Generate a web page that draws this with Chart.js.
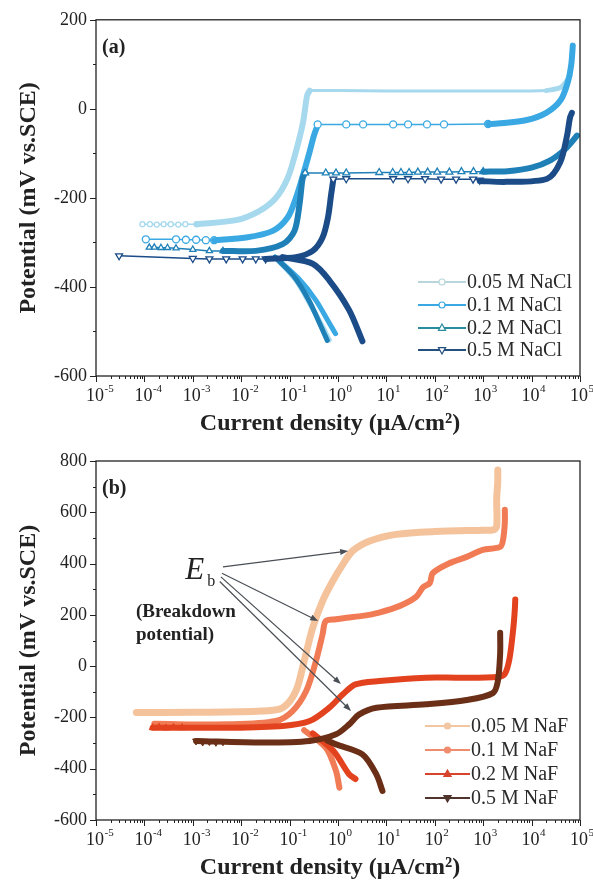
<!DOCTYPE html>
<html><head><meta charset="utf-8">
<script src="https://cdn.jsdelivr.net/npm/chart.js@4.4.1/dist/chart.umd.min.js"></script>
<style>
html,body{margin:0;padding:0;background:#fff;width:593px;height:890px;overflow:hidden}
.w{position:absolute;left:0;width:593px}
canvas{display:block}
</style></head><body>
<div class="w" style="top:0;height:440px"><canvas id="ca" width="593" height="440" style="width:593px;height:440px"></canvas></div>
<div class="w" style="top:440px;height:450px"><canvas id="cb" width="593" height="450" style="width:593px;height:450px"></canvas></div>
<script>
// ---------- Panel (a): NaCl ----------
const legendA = ['0.05 M NaCl', '0.1 M NaCl', '0.2 M NaCl', '0.5 M NaCl'];
// 0.05 M NaCl
const a005LeftX = [9.1e-5, 1.3e-4, 1.8e-4, 2.5e-4, 3.5e-4, 5e-4, 7e-4, 1.2e-3];
const a005LeftY = [-259, -259, -260, -259, -259, -260, -259, -259];
const a005RiseX = [1.2e-3, 7.8e-3, 0.023, 0.052, 0.091, 0.135, 0.19, 0.23, 0.26];
const a005RiseY = [-259, -250, -230, -200, -156, -96, -30, 30, 41];
const a005PlatX = [0.26, 1, 10, 100, 1000, 1e4, 2e4];
const a005PlatY = [41, 41, 40, 40, 40, 40, 41];
const a005TailX = [2e4, 4e4, 6.3e4];
const a005TailY = [41, 48, 75];
const a005CathX = [0.05, 0.135, 0.26, 0.48, 0.66];
const a005CathY = [-333, -385, -437, -489, -519];
// 0.1 M NaCl
const a01LeftX = [1.07e-4, 4.5e-4, 7.2e-4, 1.17e-3, 1.86e-3, 2.75e-3];
const a01LeftY = [-293, -293, -294, -294, -295, -295];
const a01RiseX = [2.75e-3, 0.0126, 0.045, 0.091, 0.135, 0.19, 0.26, 0.32, 0.38];
const a01RiseY = [-295, -289, -274, -244, -200, -148, -96, -59, -37];
const a01PlatX = [0.38, 1.48, 3.3, 13.8, 28, 69, 155, 1260];
const a01PlatY = [-35, -35, -35, -35, -35, -35, -35, -34];
const a01TailX = [1260, 2000, 8000, 2e4, 4e4, 5.6e4, 6.6e4, 7.1e4];
const a01TailY = [-34, -33, -25, -9, 20, 60, 100, 142];
const a01CathX = [0.05, 0.15, 0.35, 0.65, 0.89];
const a01CathY = [-333, -380, -430, -480, -505];
// 0.2 M NaCl
const a02LeftX = [1.26e-4, 1.6e-4, 2.2e-4, 3e-4, 4.5e-4, 1e-3, 2.2e-3, 4.2e-3];
const a02LeftY = [-311, -311, -312, -312, -313, -316, -319, -319];
const a02RiseX = [4.2e-3, 0.02, 0.072, 0.126, 0.16, 0.186, 0.21];
const a02RiseY = [-319, -319, -304, -274, -215, -156, -144];
const a02PlatX = [0.21, 0.56, 0.91, 1.48, 7.1, 13.5, 20, 29.5, 44.7, 71, 112, 200, 355, 630, 1000];
const a02PlatY = [-144, -144, -144, -144, -143, -143, -143, -143, -142, -142, -142, -142, -141, -141, -141];
const a02TailX = [1000, 3200, 1e4, 2.5e4, 5e4, 8.7e4];
const a02TailY = [-141, -140, -132, -115, -90, -60];
const a02CathX = [0.05, 0.12, 0.25, 0.45, 0.6];
const a02CathY = [-333, -375, -430, -490, -520];
// 0.5 M NaCl
const a05LeftX = [3e-5, 1e-3, 2.2e-3, 4.9e-3, 0.0107, 0.02, 0.032];
const a05LeftY = [-330, -336, -337, -337, -337, -337, -337];
const a05RiseX = [0.032, 0.135, 0.3, 0.48, 0.62, 0.72, 0.8];
const a05RiseY = [-337, -333, -319, -289, -244, -193, -159];
const a05PlatX = [0.8, 1.48, 13.8, 28, 63, 135, 275, 617, 850];
const a05PlatY = [-158, -157, -157, -157, -157, -158, -158, -158, -160];
const a05TailX = [850, 3000, 2.1e4, 3.9e4, 5.4e4, 6.2e4, 6.8e4];
const a05TailY = [-162, -164, -157, -120, -60, -20, -9];
const a05CathX = [0.072, 0.3, 0.66, 1.7, 3.2];
const a05CathY = [-333, -348, -385, -452, -522];

// ---------- Panel (b): NaF ----------
const legendB = ['0.05 M NaF', '0.1 M NaF', '0.2 M NaF', '0.5 M NaF'];
const b005X = [6.8e-5, 1e-3, 0.027, 0.072, 0.135, 0.2, 0.3, 0.48, 0.78, 1.26, 2, 4.5, 15.8, 100, 1000, 1600, 1900, 1900, 2000, 2000];
const b005Y = [-181, -180, -175, -162, -97, 20, 150, 254, 332, 397, 449, 488, 514, 525, 530, 531, 545, 650, 720, 765];
const b01X = [1.6e-4, 5.6e-3, 0.052, 0.115, 0.22, 0.35, 0.48, 0.56, 0.91, 1.5, 3.2, 7.1, 19, 41, 58, 79, 91, 204, 457, 977, 2240, 2570, 2800, 2800];
const b01Y = [-225, -227, -214, -175, -97, 20, 124, 176, 183, 189, 196, 209, 235, 270, 309, 324, 363, 402, 426, 453, 465, 492, 560, 610];
const b01CathX = [0.2, 0.56, 0.91, 1.07];
const b01CathY = [-250, -318, -409, -474];
const b02X = [1.48e-4, 5.6e-3, 0.072, 0.26, 0.66, 1.26, 2.3, 7.1, 66, 316, 2000, 2800, 3500, 4200, 4500, 4600];
const b02Y = [-240, -240, -233, -214, -162, -110, -71, -58, -45, -45, -42, -30, 30, 150, 220, 260];
const b02CathX = [0.3, 0.8, 1.7, 2.3];
const b02CathY = [-262, -330, -422, -440];
const b02MarkX = [1.48e-4, 2e-4, 2.8e-4, 4e-4, 6e-4];
const b02MarkY = [-240, -238, -241, -239, -240];
const b05X = [1.17e-3, 0.0275, 0.26, 0.91, 1.7, 2.75, 6.2, 66, 457, 1580, 2000, 2240, 2240];
const b05Y = [-292, -298, -292, -266, -227, -188, -162, -149, -132, -105, -60, 50, 130];
const b05CathX = [0.6, 0.91, 3.2, 6.2, 8.3];
const b05CathY = [-290, -305, -344, -422, -487];
const b05MarkX = [1.17e-3, 1.6e-3, 2.2e-3, 3e-3, 4.2e-3];
const b05MarkY = [-292, -296, -294, -297, -295];

// annotation (data coordinates) for E_b arrows
const ebTailX = [4.2e-3, 4.0e-3, 3.8e-3, 3.6e-3];
const ebTailY = [387, 362, 348, 330];
const ebHeadX = [1.62, 0.39, 1.15, 1.86];
const ebHeadY = [449, 176, -70, -175];

const xTickExp = [-5, -4, -3, -2, -1, 0, 1, 2, 3, 4, 5];

// ---------- styles ----------
const colA = ['#a6d9ee', '#3aa9e3', '#1f80b8', '#1b4c88'];
const legColA = ['#b9d6dc', '#3aa9e3', '#2a8d9e', '#23507e'];
const colB = ['#f5c39b', '#f07b55', '#e3421f', '#6a2f16'];
const legColB = ['#f3c6a2', '#f08c6e', '#d8432c', '#4e342c'];
const SERIF = '"Liberation Serif", "Times New Roman", serif';

function pts(xs, ys) { return xs.map((x, i) => ({ x: x, y: ys[i] })); }
function line(xs, ys, color, width, extra) {
  return Object.assign({
    data: pts(xs, ys), borderColor: color, backgroundColor: color, borderWidth: width,
    showLine: true, pointRadius: 0, pointHoverRadius: 0, fill: false, tension: width >= 4 ? 0.3 : 0,
    borderJoinStyle: 'round', borderCapStyle: 'round'
  }, extra || {});
}
function marks(color, style, rot, r) {
  return { pointRadius: r || 3.5, pointStyle: style, rotation: rot || 0,
    pointBackgroundColor: '#fff', pointBorderColor: color, pointBorderWidth: 1.3 };
}

function decor(cfg) {
  return {
    id: 'decor',
    afterDraw(chart) {
      const ctx = chart.ctx, a = chart.chartArea, x = chart.scales.x, y = chart.scales.y;
      ctx.save();
      ctx.strokeStyle = '#222'; ctx.lineWidth = 1.3;
      ctx.strokeRect(a.left, a.top, a.right - a.left, a.bottom - a.top);
      ctx.lineWidth = 1;
      for (let v = cfg.yMin; v <= cfg.yMax + 0.1; v += cfg.yMinor) {
        const py = Math.round(y.getPixelForValue(v)) + 0.5;
        const major = Math.abs((v - cfg.yMin) % cfg.yMajor) < 0.01;
        ctx.beginPath(); ctx.moveTo(a.left, py); ctx.lineTo(a.left - (major ? 6 : 3), py); ctx.stroke();
      }
      for (let e = -5; e <= 5; e++) {
        for (let m = 1; m <= 9; m++) {
          const v = m * Math.pow(10, e);
          if (v > 1.0001e5) break;
          const px = Math.round(x.getPixelForValue(v)) + 0.5;
          ctx.beginPath(); ctx.moveTo(px, a.bottom); ctx.lineTo(px, a.bottom + (m === 1 ? 6 : 3)); ctx.stroke();
        }
      }
      // x tick labels 10^n
      ctx.fillStyle = '#222'; ctx.textBaseline = 'alphabetic';
      xTickExp.forEach(e => {
        const px = x.getPixelForValue(Math.pow(10, e));
        ctx.font = '18px ' + SERIF;
        const w1 = ctx.measureText('10').width;
        const es = String(e);
        const sx = px - w1 / 2 - 1;
        ctx.textAlign = 'left';
        ctx.fillText('10', sx, a.bottom + 25);
        ctx.font = '11px ' + SERIF;
        ctx.fillText(es, sx + w1 + 0.5, a.bottom + 16);
      });
      // axis titles
      ctx.font = 'bold 24px ' + SERIF; ctx.textAlign = 'center'; ctx.textBaseline = 'middle';
      ctx.fillText('Current density (\u03bcA/cm\u00b2)', 330, a.bottom + 48);
      ctx.save();
      ctx.translate(29, (a.top + a.bottom) / 2); ctx.rotate(-Math.PI / 2);
      ctx.fillText('Potential (mV vs.SCE)', 0, 0);
      ctx.restore();
      // panel label
      ctx.font = 'bold 20px ' + SERIF; ctx.textAlign = 'left';
      ctx.fillText(cfg.panel, a.left + 6, a.top + 28);
      // legend
      cfg.legend.forEach((t, i) => {
        const ly = cfg.legY[i];
        ctx.strokeStyle = cfg.legCol[i]; ctx.lineWidth = cfg.legW;
        ctx.beginPath(); ctx.moveTo(cfg.legX0, ly); ctx.lineTo(cfg.legX1, ly); ctx.stroke();
        const mx = (cfg.legX0 + cfg.legX1) / 2;
        ctx.lineWidth = 1.2;
        drawMarker(ctx, cfg.legMark[i], mx, ly, cfg.legCol[i], cfg.legFill);
        ctx.fillStyle = '#2a2a2a'; ctx.font = '20px ' + SERIF; ctx.textBaseline = 'middle'; ctx.textAlign = 'left';
        ctx.fillText(t, cfg.legX1 + 1, ly + 1);
      });
      if (cfg.extra) cfg.extra(ctx, x, y);
      ctx.restore();
    }
  };
}
function drawMarker(ctx, kind, x, y, color, filled) {
  ctx.beginPath();
  if (kind === 'circle') ctx.arc(x, y, 3, 0, Math.PI * 2);
  else if (kind === 'tri') { ctx.moveTo(x, y - 4); ctx.lineTo(x + 3.6, y + 2.4); ctx.lineTo(x - 3.6, y + 2.4); ctx.closePath(); }
  else if (kind === 'dtri') { ctx.moveTo(x, y + 4); ctx.lineTo(x + 3.6, y - 2.4); ctx.lineTo(x - 3.6, y - 2.4); ctx.closePath(); }
  ctx.fillStyle = filled ? color : '#fff'; ctx.fill();
  ctx.strokeStyle = color; ctx.stroke();
}

function baseOptions(yMin, yMax, xH, padTop) {
  return {
    responsive: false, animation: false, devicePixelRatio: 1,
    layout: { padding: { left: 0, right: 13, top: padTop, bottom: 0 } },
    plugins: { legend: { display: false }, tooltip: { enabled: false } },
    events: [],
    scales: {
      x: { type: 'logarithmic', min: 1e-5, max: 1e5,
        ticks: { display: false }, grid: { display: false }, border: { display: false },
        afterFit: s => { s.height = xH; } },
      y: { type: 'linear', min: yMin, max: yMax,
        ticks: { stepSize: 200, color: '#222', padding: 9, font: { family: SERIF, size: 18 } },
        grid: { display: false, drawTicks: false }, border: { display: false },
        afterFit: s => { s.width = 96; } }
    }
  };
}

// ----- Chart A -----
const dsA = [];
// bottom to top
dsA.push(line(a005CathX, a005CathY, colA[0], 5));
dsA.push(line(a005LeftX, a005LeftY, colA[0], 1.5, marks(colA[0], 'circle', 0, 2.5)));
dsA.push(line(a005RiseX, a005RiseY, colA[0], 6));
dsA.push(line(a005PlatX, a005PlatY, colA[0], 3));
dsA.push(line(a005TailX, a005TailY, colA[0], 5));
dsA.push(line(a01CathX, a01CathY, colA[1], 5));
dsA.push(line(a01LeftX, a01LeftY, colA[1], 1.5, marks(colA[1], 'circle', 0, 3.5)));
dsA.push(line(a01RiseX, a01RiseY, colA[1], 6));
dsA.push(line(a01PlatX, a01PlatY, colA[1], 1.5, marks(colA[1], 'circle', 0, 3.5)));
dsA.push(line(a01TailX, a01TailY, colA[1], 6));
dsA.push(line(a02CathX, a02CathY, colA[2], 5));
dsA.push(line(a02LeftX, a02LeftY, colA[2], 1.5, marks(colA[2], 'triangle', 0, 3.5)));
dsA.push(line(a02RiseX, a02RiseY, colA[2], 6));
dsA.push(line(a02PlatX, a02PlatY, colA[2], 1.5, marks(colA[2], 'triangle', 0, 4)));
dsA.push(line(a02TailX, a02TailY, colA[2], 6));
dsA.push(line(a05CathX, a05CathY, colA[3], 6));
dsA.push(line(a05LeftX, a05LeftY, colA[3], 1.5, marks(colA[3], 'triangle', 180, 4)));
dsA.push(line(a05RiseX, a05RiseY, colA[3], 6));
dsA.push(line(a05PlatX, a05PlatY, colA[3], 1.5, marks(colA[3], 'triangle', 180, 4)));
dsA.push(line(a05TailX, a05TailY, colA[3], 6));
dsA.forEach((d, i) => { d.order = dsA.length - i; });

new Chart(document.getElementById('ca'), {
  type: 'scatter',
  data: { datasets: dsA },
  options: baseOptions(-600, 200, 440 - 376, 16),
  plugins: [decor({ yMin: -600, yMax: 200, yMajor: 200, yMinor: 100, panel: '(a)',
    legend: legendA, legCol: legColA, legMark: ['circle', 'circle', 'tri', 'dtri'], legFill: false, legW: 2.2,
    legY: [282, 305, 328, 350], legX0: 418, legX1: 466 })]
});

// ----- Chart B -----
const dsB = [];
dsB.push(line(b005X, b005Y, colB[0], 7));
dsB.push(line(b01CathX, b01CathY, colB[1], 6));
dsB.push(line(b01X, b01Y, colB[1], 6));
dsB.push(line(b02CathX, b02CathY, colB[2], 6));
dsB.push(line(b02X, b02Y, colB[2], 6));
dsB.push(line(b02MarkX, b02MarkY, colB[2], 1, { showLine: false, pointRadius: 4, pointStyle: 'triangle', pointBackgroundColor: colB[2], pointBorderColor: colB[2] }));
dsB.push(line(b05CathX, b05CathY, colB[3], 6));
dsB.push(line(b05X, b05Y, colB[3], 6));
dsB.push(line(b05MarkX, b05MarkY, colB[3], 1, { showLine: false, pointRadius: 4, pointStyle: 'triangle', rotation: 180, pointBackgroundColor: colB[3], pointBorderColor: colB[3] }));
dsB.forEach((d, i) => { d.order = dsB.length - i; });

function ebAnnot(ctx, x, y) {
  ctx.strokeStyle = '#4a4f55'; ctx.fillStyle = '#4a4f55'; ctx.lineWidth = 1.2;
  for (let i = 0; i < ebTailX.length; i++) {
    const x0 = x.getPixelForValue(ebTailX[i]), y0 = y.getPixelForValue(ebTailY[i]);
    const x1 = x.getPixelForValue(ebHeadX[i]), y1 = y.getPixelForValue(ebHeadY[i]);
    const ang = Math.atan2(y1 - y0, x1 - x0);
    ctx.beginPath(); ctx.moveTo(x0, y0); ctx.lineTo(x1 - 5 * Math.cos(ang), y1 - 5 * Math.sin(ang)); ctx.stroke();
    ctx.beginPath();
    ctx.moveTo(x1, y1);
    ctx.lineTo(x1 - 8 * Math.cos(ang) + 3 * Math.sin(ang), y1 - 8 * Math.sin(ang) - 3 * Math.cos(ang));
    ctx.lineTo(x1 - 8 * Math.cos(ang) - 3 * Math.sin(ang), y1 - 8 * Math.sin(ang) + 3 * Math.cos(ang));
    ctx.closePath(); ctx.fill();
  }
  ctx.fillStyle = '#222'; ctx.textAlign = 'left'; ctx.textBaseline = 'alphabetic';
  const ex = x.getPixelForValue(7e-4), ey = y.getPixelForValue(340);
  ctx.font = 'italic 31px ' + SERIF; ctx.fillText('E', ex, ey);
  ctx.font = '16px ' + SERIF; ctx.fillText('b', ex + 22, ey + 7);
  const bx = x.getPixelForValue(6.7e-5);
  ctx.font = 'bold 19px ' + SERIF;
  ctx.fillText('(Breakdown', bx, y.getPixelForValue(192));
  ctx.fillText('potential)', bx, y.getPixelForValue(102));
}

new Chart(document.getElementById('cb'), {
  type: 'scatter',
  data: { datasets: dsB },
  options: baseOptions(-600, 800, 450 - 380, 21),
  plugins: [decor({ yMin: -600, yMax: 800, yMajor: 200, yMinor: 100, panel: '(b)',
    legend: legendB, legCol: legColB, legMark: ['circle', 'circle', 'tri', 'dtri'], legFill: true, legW: 1.8,
    legY: [286, 310, 334, 358], legX0: 425, legX1: 470, extra: ebAnnot })]
});
</script>
</body></html>
